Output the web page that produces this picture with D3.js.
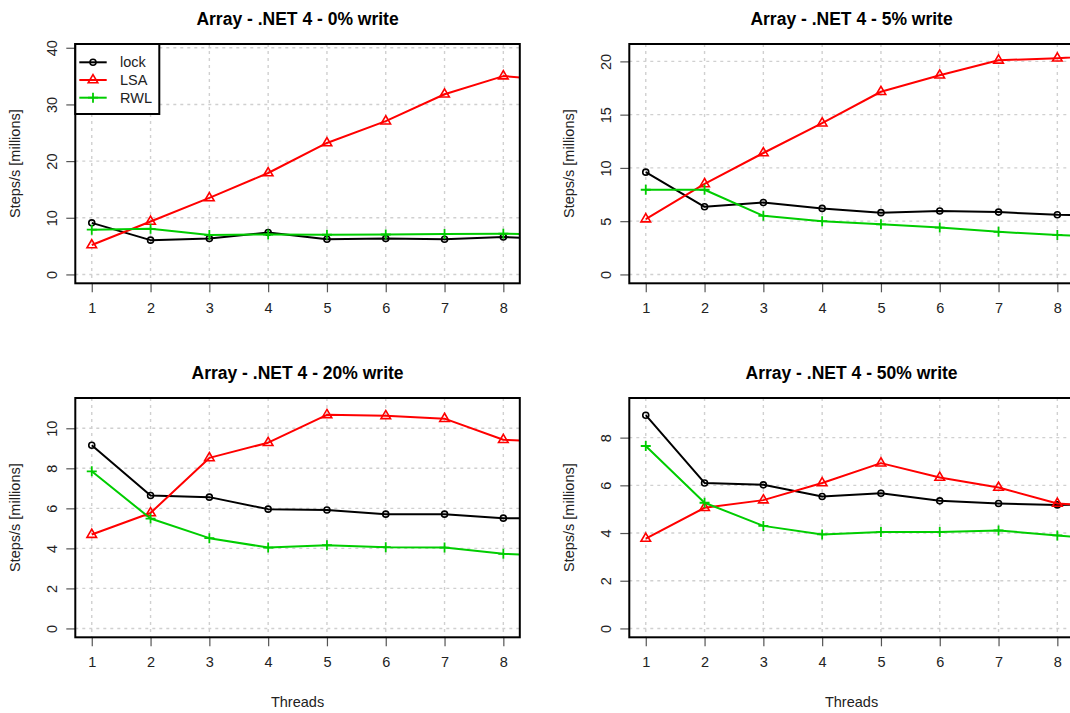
<!DOCTYPE html>
<html>
<head>
<meta charset="utf-8">
<script src="https://cdn.jsdelivr.net/npm/d3@7"></script>
<style>
    html, body { margin: 0; padding: 0; background: #fff; overflow: hidden; }
    svg { display: block; font-family: "Liberation Sans", Arial, sans-serif; }
</style>
</head>
<body>
<div id="chart"></div>
<script>
// Threads (the 9th run is mostly outside the plotted range)
const threads = [1, 2, 3, 4, 5, 6, 7, 8, 9];
const xTicks = [1, 2, 3, 4, 5, 6, 7, 8];
const seriesNames = ["lock", "LSA", "RWL"];
const panelTitles = [
    "Array - .NET 4 - 0% write",
    "Array - .NET 4 - 5% write",
    "Array - .NET 4 - 20% write",
    "Array - .NET 4 - 50% write"
];

// Steps/s in millions
const lock0 = [9.1, 6.05, 6.35, 7.4, 6.2, 6.35, 6.2, 6.6, 6.2];
const lsa0 = [5.2, 9.35, 13.5, 17.9, 23.2, 27.05, 31.8, 35.0, 34.2];
const rwl0 = [7.9, 8.05, 6.95, 7.05, 7.0, 7.05, 7.15, 7.2, 6.9];

const lock5 = [9.6, 6.35, 6.75, 6.2, 5.8, 5.95, 5.85, 5.6, 5.55];
const lsa5 = [5.2, 8.5, 11.4, 14.2, 17.15, 18.7, 20.1, 20.3, 20.6];
const rwl5 = [7.95, 7.95, 5.5, 5.0, 4.7, 4.4, 4.0, 3.7, 3.5];

const lock20 = [9.15, 6.64, 6.56, 5.96, 5.92, 5.71, 5.71, 5.51, 5.5];
const lsa20 = [4.69, 5.77, 8.52, 9.28, 10.67, 10.62, 10.48, 9.43, 9.3];
const rwl20 = [7.85, 5.49, 4.51, 4.04, 4.16, 4.06, 4.04, 3.73, 3.62];

const lock50 = [8.94, 6.1, 6.02, 5.53, 5.67, 5.35, 5.24, 5.18, 5.2];
const lsa50 = [3.77, 5.06, 5.38, 6.1, 6.93, 6.33, 5.91, 5.24, 5.1];
const rwl50 = [7.65, 5.27, 4.3, 3.94, 4.04, 4.04, 4.11, 3.9, 3.7];

// y axis upper limits and ticks per panel
const yMax = [39.1, 20.8, 11.07, 9.29];
const yTicks0 = [0, 10, 20, 30, 40];
const yTicks5 = [0, 5, 10, 15, 20];
const yTicks20 = [0, 2, 4, 6, 8, 10];
const yTicks50 = [0, 2, 4, 6, 8];

const panels = [
    { title: panelTitles[0], series: [lock0, lsa0, rwl0], yMax: yMax[0], yTicks: yTicks0 },
    { title: panelTitles[1], series: [lock5, lsa5, rwl5], yMax: yMax[1], yTicks: yTicks5 },
    { title: panelTitles[2], series: [lock20, lsa20, rwl20], yMax: yMax[2], yTicks: yTicks20 },
    { title: panelTitles[3], series: [lock50, lsa50, rwl50], yMax: yMax[3], yTicks: yTicks50 }
];

const colors = ["#000000", "#ff0000", "#00cd00"];

const width = 1070;
const height = 713;
const cellW = 554;
const cellH = 354;
const plotLeft = 75.3;
const plotTop = 44;
const plotW = 444.5;
const plotH = 239.3;

const svg = d3.select("#chart")
    .append("svg")
    .attr("width", width)
    .attr("height", height);

svg.append("rect")
    .attr("width", width)
    .attr("height", height)
    .attr("fill", "#fff");

function drawMarker(g, kind, color) {
    if (kind === 0) {
        g.append("circle")
            .attr("r", 3)
            .attr("fill", "none")
            .attr("stroke", color)
            .attr("stroke-width", 1.6);
    } else if (kind === 1) {
        g.append("path")
            .attr("d", "M0,-5.4L4.8,2.8L-4.8,2.8Z")
            .attr("fill", "none")
            .attr("stroke", color)
            .attr("stroke-width", 1.6);
    } else {
        g.append("path")
            .attr("d", "M-5,0H5M0,-5V5")
            .attr("stroke", color)
            .attr("stroke-width", 1.8);
    }
}

panels.forEach((panel, i) => {
    const col = i % 2;
    const row = Math.floor(i / 2);
    const ox = col * cellW;
    const oy = row * cellH;

    const cell = svg.append("g")
        .attr("transform", `translate(${ox},${oy})`);

    // white background of each plot image (the lower row covers the upper one slightly)
    cell.append("rect")
        .attr("y", row === 1 ? -12 : 0)
        .attr("width", cellW)
        .attr("height", cellH + 20)
        .attr("fill", "#fff");

    const x = d3.scaleLinear()
        .domain([0.72, 8.28])
        .range([plotLeft, plotLeft + plotW]);

    const y = d3.scaleLinear()
        .domain([-0.04 * panel.yMax, 1.04 * panel.yMax])
        .range([plotTop + plotH, plotTop]);

    // title
    cell.append("text")
        .attr("x", plotLeft + plotW / 2)
        .attr("y", 24.5)
        .attr("text-anchor", "middle")
        .style("font-size", "17.5px")
        .style("font-weight", "bold")
        .attr("fill", "#000")
        .text(panel.title);

    // grid
    const grid = cell.append("g")
        .attr("stroke", "#d0d0d0")
        .attr("stroke-width", 1.4)
        .attr("stroke-dasharray", "3,4");

    grid.selectAll(".gx")
        .data(xTicks)
        .enter()
        .append("line")
        .attr("x1", d => x(d))
        .attr("x2", d => x(d))
        .attr("y1", plotTop)
        .attr("y2", plotTop + plotH);

    grid.selectAll(".gy")
        .data(panel.yTicks)
        .enter()
        .append("line")
        .attr("x1", plotLeft)
        .attr("x2", plotLeft + plotW)
        .attr("y1", d => y(d))
        .attr("y2", d => y(d));

    // axes
    const xAxis = d3.axisBottom(x)
        .tickValues(xTicks)
        .tickSize(9)
        .tickPadding(10)
        .tickFormat(d3.format("d"));

    const xg = cell.append("g")
        .attr("transform", `translate(0,${plotTop + plotH})`)
        .call(xAxis);
    xg.select(".domain").remove();
    xg.selectAll(".tick line").attr("stroke", "#555").attr("stroke-width", 1.2);
    xg.selectAll(".tick text")
        .attr("fill", "#222")
        .style("font-size", "14.5px")
        .style("font-family", "Liberation Sans, Arial, sans-serif");

    const yAxis = d3.axisLeft(y)
        .tickValues(panel.yTicks)
        .tickSize(9)
        .tickFormat(d3.format("d"));

    const yg = cell.append("g")
        .attr("transform", `translate(${plotLeft},0)`)
        .call(yAxis);
    yg.select(".domain").remove();
    yg.selectAll(".tick line").attr("stroke", "#555").attr("stroke-width", 1.2);
    yg.selectAll(".tick text")
        .attr("x", null)
        .attr("dy", null)
        .attr("fill", "#222")
        .attr("text-anchor", "middle")
        .attr("dominant-baseline", "central")
        .attr("transform", "translate(-23.6,0) rotate(-90)")
        .style("font-size", "14.5px")
        .style("font-family", "Liberation Sans, Arial, sans-serif");

    // axis titles
    cell.append("text")
        .attr("transform", `translate(${plotLeft - 60.3},${plotTop + plotH / 2}) rotate(-90)`)
        .attr("text-anchor", "middle")
        .attr("dominant-baseline", "central")
        .attr("fill", "#222")
        .style("font-size", "14.5px")
        .text("Steps/s [millions]");

    cell.append("text")
        .attr("x", plotLeft + plotW / 2)
        .attr("y", plotTop + plotH + 64.4)
        .attr("text-anchor", "middle")
        .attr("dominant-baseline", "central")
        .attr("fill", "#222")
        .style("font-size", "14.5px")
        .text("Threads");

    // clip series to the plot box
    const clipId = "clip" + i;
    cell.append("clipPath")
        .attr("id", clipId)
        .append("rect")
        .attr("x", plotLeft)
        .attr("y", plotTop)
        .attr("width", plotW)
        .attr("height", plotH);

    const plot = cell.append("g")
        .attr("clip-path", `url(#${clipId})`);

    const line = d3.line()
        .x((d, j) => x(threads[j]))
        .y(d => y(d));

    panel.series.forEach((values, s) => {
        plot.append("path")
            .datum(values)
            .attr("fill", "none")
            .attr("stroke", colors[s])
            .attr("stroke-width", 2)
            .attr("stroke-linejoin", "round")
            .attr("d", line);

        values.forEach((v, j) => {
            const m = plot.append("g")
                .attr("transform", `translate(${x(threads[j])},${y(v)})`);
            drawMarker(m, s, colors[s]);
        });
    });

    // plot box
    cell.append("rect")
        .attr("x", plotLeft)
        .attr("y", plotTop)
        .attr("width", plotW)
        .attr("height", plotH)
        .attr("fill", "none")
        .attr("stroke", "#000")
        .attr("stroke-width", 2);

    // legend only in the first panel
    if (i === 0) {
        const legend = cell.append("g")
            .attr("transform", `translate(${plotLeft},${plotTop})`);

        legend.append("rect")
            .attr("width", 84)
            .attr("height", 70)
            .attr("fill", "#fff")
            .attr("stroke", "#000")
            .attr("stroke-width", 2);

        seriesNames.forEach((name, s) => {
            const ly = 18.3 + s * 17.7;
            legend.append("line")
                .attr("x1", 4)
                .attr("x2", 31.4)
                .attr("y1", ly)
                .attr("y2", ly)
                .attr("stroke", colors[s])
                .attr("stroke-width", 2);
            const m = legend.append("g")
                .attr("transform", `translate(17.7,${ly})`);
            drawMarker(m, s, colors[s]);
            legend.append("text")
                .attr("x", 44.7)
                .attr("y", ly)
                .attr("dominant-baseline", "central")
                .attr("fill", "#222")
                .style("font-size", "14.5px")
                .text(name);
        });
    }
});
</script>
</body>
</html>
